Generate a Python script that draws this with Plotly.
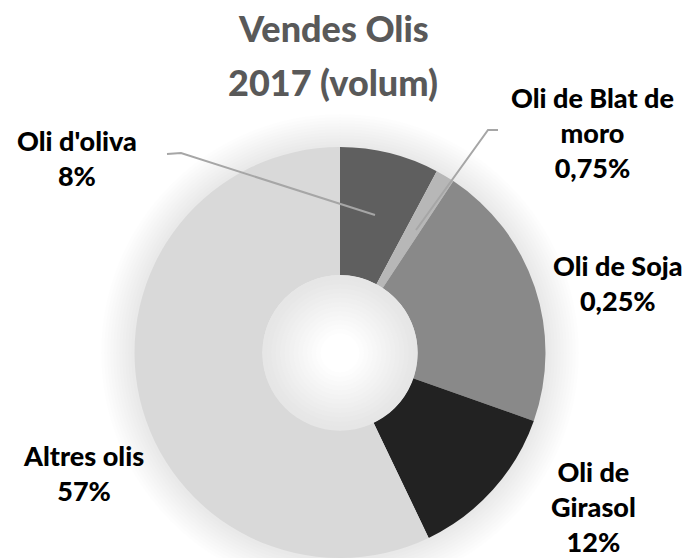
import plotly.graph_objects as go

# ---- data ----
categories = ["Oli d'oliva", "Oli de Blat de moro", "Oli de Soja", "Oli de Girasol", "Altres olis"]
values = [7.8, 1.5, 21.1, 12.5, 57.1]
label_texts = ["Oli d'oliva<br>8%", "Oli de Blat de<br>moro<br>0,75%", "Oli de Soja<br>0,25%",
               "Oli de<br>Girasol<br>12%", "Altres olis<br>57%"]
colors = ["#5f5f5f", "#b7b7b7", "#898989", "#222222", "#d9d9d9"]
title_lines = ["Vendes Olis", "2017 (volum)"]

W, H = 690, 558
FONT = "Lato"

def px(x):
    return x / W

def py(y):
    return 1 - y / H

# pie geometry (pixels)
cx, cy, R = 340, 353, 206
hole = 0.377

fig = go.Figure(go.Pie(
    labels=categories, values=values, sort=False, direction="clockwise", rotation=0,
    hole=hole, marker=dict(colors=colors, line=dict(width=0)),
    textinfo="none", showlegend=False,
    domain=dict(x=[px(cx - R), px(cx + R)], y=[0, py(cy - R)]),
))

shapes = []
# soft glow behind the pie
for k in range(1, 12):
    r = R + k * 3
    shapes.append(dict(type="circle", xref="paper", yref="paper", layer="below",
                       x0=px(cx - r), x1=px(cx + r), y0=py(cy + r), y1=py(cy - r),
                       fillcolor="rgba(0,0,0,0.007)", line=dict(width=0)))
# gradient inside the hole
rh = R * hole
steps = 14
for i in range(steps):
    t = i / (steps - 1)
    r = rh * (1 - 0.75 * t)
    c = int(230 + (255 - 230) * t)
    shapes.append(dict(type="circle", xref="paper", yref="paper", layer="above",
                       x0=px(cx - r), x1=px(cx + r), y0=py(cy + r), y1=py(cy - r),
                       fillcolor=f"rgb({c},{c},{c})", line=dict(width=0)))

# leader lines
def path(pts):
    return "M " + " L ".join(f"{px(a)},{py(b)}" for a, b in pts)

shapes.append(dict(type="path", xref="paper", yref="paper", layer="above",
                   path=path([(167, 154), (181, 153), (375, 215)]),
                   line=dict(color="#a6a6a6", width=2)))
shapes.append(dict(type="path", xref="paper", yref="paper", layer="above",
                   path=path([(498, 130), (488, 130), (416, 230)]),
                   line=dict(color="#a6a6a6", width=2)))

annotations = []
# title
for text, (x, y) in zip(title_lines, [(333, 28), (333, 82)]):
    annotations.append(dict(text=text, x=px(x), y=py(y), xref="paper", yref="paper",
                            xanchor="center", yanchor="middle", showarrow=False,
                            font=dict(family=FONT, size=36, color="#595959", weight=900)))
# labels
label_pos = [(77, 158), (592, 132), (618, 283), (593, 506), (83, 473)]
for text, (x, y) in zip(label_texts, label_pos):
    annotations.append(dict(text=text, x=px(x), y=py(y), xref="paper", yref="paper",
                            xanchor="center", yanchor="middle", showarrow=False, align="center",
                            font=dict(family=FONT, size=27, color="#000000", weight=900)))

fig.update_layout(
    width=W, height=H, margin=dict(l=0, r=0, t=0, b=0),
    paper_bgcolor="white", plot_bgcolor="white",
    shapes=shapes, annotations=annotations,
)

fig.write_html("out.html", config={"displayModeBar": False},
               post_script="document.body.style.margin='0';")
